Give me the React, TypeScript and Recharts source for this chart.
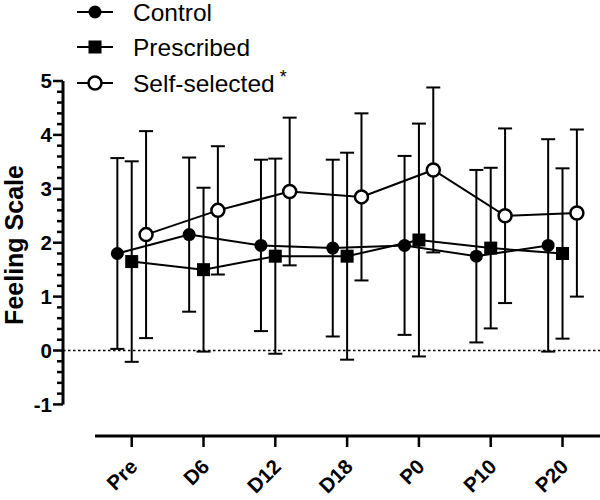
import React from 'react';
import { ComposedChart, Line, XAxis, YAxis, ErrorBar, ReferenceLine } from 'recharts';

const categories = ['Pre', 'D6', 'D12', 'D18', 'P0', 'P10', 'P20'];
const controlMean = [1.8, 2.15, 1.95, 1.9, 1.95, 1.75, 1.95];
const controlSD = [1.77, 1.43, 1.59, 1.64, 1.66, 1.6, 1.97];
const prescribedMean = [1.65, 1.5, 1.75, 1.75, 2.05, 1.9, 1.8];
const prescribedSD = [1.86, 1.52, 1.81, 1.92, 2.16, 1.49, 1.58];
const selfMean = [2.15, 2.6, 2.95, 2.85, 3.35, 2.5, 2.55];
const selfSD = [1.92, 1.19, 1.37, 1.55, 1.53, 1.62, 1.55];
const seriesNames = ['Control', 'Prescribed', 'Self-selected'];

const FONT = '"Liberation Sans", Arial, sans-serif';
const DODGE = 0.2;
const X_DOMAIN: [number, number] = [-0.957, 6.522];
const Y_DOMAIN: [number, number] = [-1.586, 5];
const yTicks = Array.from({ length: 31 }, (_, k) => Math.round((-1 + k * 0.2) * 10) / 10);
const xTicks = categories.map((_, i) => i);

const build = (mean: number[], sd: number[], off: number) =>
  categories.map((c, i) => ({ x: i + off, name: c, y: mean[i], err: sd[i] }));

const controlData = build(controlMean, controlSD, -DODGE);
const prescribedData = build(prescribedMean, prescribedSD, 0);
const selfData = build(selfMean, selfSD, DODGE);

const FilledCircle = (p: any) => (
  <circle key={`c${p.index}`} cx={p.cx} cy={p.cy} r={6.5} fill="#000" />
);
const FilledSquare = (p: any) => (
  <rect key={`s${p.index}`} x={p.cx - 6.5} y={p.cy - 6.5} width={13} height={13} fill="#000" />
);
const OpenCircle = (p: any) => (
  <circle key={`o${p.index}`} cx={p.cx} cy={p.cy} r={6.5} fill="#fff" stroke="#000" strokeWidth={2.5} />
);

const YTick = (p: any) => {
  const v = p.payload.value;
  const major = Math.abs(v - Math.round(v)) < 1e-6;
  return (
    <g>
      <line x1={p.x - (major ? 10 : 6)} x2={p.x} y1={p.y} y2={p.y} stroke="#000" strokeWidth={2.5} />
      {major && (
        <text x={p.x - 11} y={p.y} dy="0.36em" textAnchor="end" fontSize={20.5} fontWeight="bold" fontFamily={FONT} fill="#000">
          {String(Math.round(v))}
        </text>
      )}
    </g>
  );
};

const XTick = (p: any) => {
  const label = categories[p.payload.value];
  const x = p.x + 7;
  const y = p.y + 19;
  return (
    <text x={x} y={y} transform={`rotate(-45 ${x} ${y})`} textAnchor="end" fontSize={20.5} fontWeight="bold" fontFamily={FONT} fill="#000">
      {label}
    </text>
  );
};

const YLabel = () => (
  <text x={23} y={245} transform="rotate(-90 23 245)" textAnchor="middle" fontSize={25} fontWeight="bold" fontFamily={FONT} fill="#000">
    Feeling Scale
  </text>
);

const Legend = () => {
  const rows = [12, 47, 83];
  return (
    <svg width={600} height={100} style={{ position: 'absolute', left: 0, top: 0, pointerEvents: 'none' }}>
      {seriesNames.map((n, i) => (
        <g key={n}>
          <line x1={77} x2={113} y1={rows[i]} y2={rows[i]} stroke="#000" strokeWidth={2} />
          {i === 0 && <circle cx={95} cy={rows[i]} r={6.5} fill="#000" />}
          {i === 1 && <rect x={88.5} y={rows[i] - 6.5} width={13} height={13} fill="#000" />}
          {i === 2 && <circle cx={95} cy={rows[i]} r={6.5} fill="#fff" stroke="#000" strokeWidth={2.5} />}
          <text x={133} y={rows[i] + 8.5} fontSize={24.5} fontFamily={FONT} fill="#000">
            {n}
            {i === 2 && (
              <tspan dx={5} dy={-9} fontSize={18}>*</tspan>
            )}
          </text>
        </g>
      ))}
    </svg>
  );
};

export default function App() {
  return (
    <div style={{ position: 'absolute', left: 0, top: 0, width: 600, height: 500, background: '#fff' }}>
      <ComposedChart width={600} height={500} margin={{ top: 81, right: 0, bottom: 0, left: 0 }}>
        <XAxis
          xAxisId="x"
          type="number"
          dataKey="x"
          domain={X_DOMAIN}
          allowDataOverflow
          ticks={xTicks}
          interval={0}
          axisLine={false}
          tickLine={{ stroke: '#000', strokeWidth: 2.5 }}
          tickSize={11}
          tick={<XTick />}
          height={64}
        />
        <YAxis
          type="number"
          domain={Y_DOMAIN}
          allowDataOverflow
          ticks={yTicks}
          interval={0}
          axisLine={false}
          tickLine={false}
          tickSize={0}
          tickMargin={0}
          width={63}
          tick={<YTick />}
          label={<YLabel />}
        />
        <ReferenceLine xAxisId="x" y={0} stroke="#000" strokeWidth={1.5} strokeDasharray="2.5 2.5" ifOverflow="visible" />
        <ReferenceLine
          xAxisId="x"
          segment={[{ x: X_DOMAIN[0], y: -1 }, { x: X_DOMAIN[0], y: 5 }]}
          stroke="#000"
          strokeWidth={3}
          ifOverflow="visible"
        />
        <ReferenceLine
          xAxisId="x"
          segment={[{ x: -0.511, y: Y_DOMAIN[0] }, { x: X_DOMAIN[1], y: Y_DOMAIN[0] }]}
          stroke="#000"
          strokeWidth={3}
          ifOverflow="visible"
        />
        <Line xAxisId="x" data={controlData} dataKey="y" name={seriesNames[0]} stroke="#000" strokeWidth={2} dot={FilledCircle} activeDot={false} isAnimationActive={false}>
          <ErrorBar dataKey="err" direction="y" width={7} stroke="#000" strokeWidth={2} />
        </Line>
        <Line xAxisId="x" data={prescribedData} dataKey="y" name={seriesNames[1]} stroke="#000" strokeWidth={2} dot={FilledSquare} activeDot={false} isAnimationActive={false}>
          <ErrorBar dataKey="err" direction="y" width={7} stroke="#000" strokeWidth={2} />
        </Line>
        <Line xAxisId="x" data={selfData} dataKey="y" name={seriesNames[2]} stroke="#000" strokeWidth={2} dot={OpenCircle} activeDot={false} isAnimationActive={false}>
          <ErrorBar dataKey="err" direction="y" width={7} stroke="#000" strokeWidth={2} />
        </Line>
      </ComposedChart>
      <Legend />
    </div>
  );
}
